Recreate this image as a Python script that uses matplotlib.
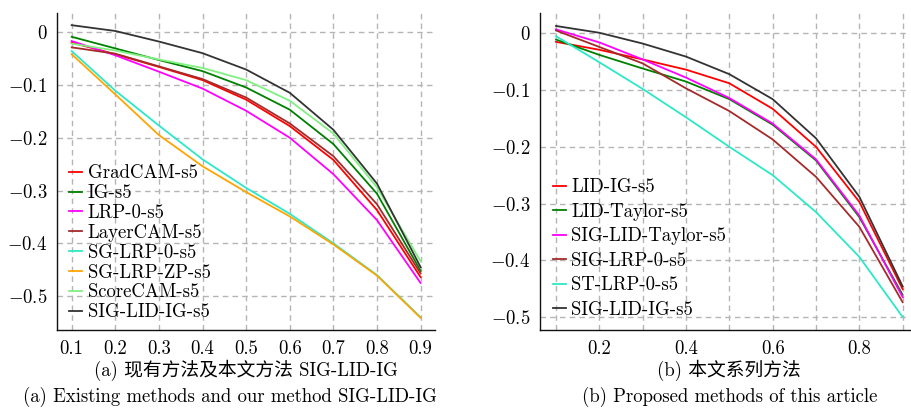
import matplotlib
matplotlib.use("Agg")
import matplotlib.pyplot as plt
import numpy as np

plt.rcParams['font.family'] = ['cmr10', 'Noto Sans CJK SC']
plt.rcParams['mathtext.fontset'] = 'cm'
plt.rcParams['axes.formatter.use_mathtext'] = True
plt.rcParams['axes.unicode_minus'] = False

FS = 13.5

# ---- data, left panel: existing methods vs SIG-LID-IG ----
x = [0.1, 0.2, 0.3, 0.4, 0.5, 0.6, 0.7, 0.8, 0.9]

gradcam = [-0.020, -0.042, -0.066, -0.091, -0.128, -0.178, -0.242, -0.337, -0.464]
ig = [-0.009, -0.031, -0.053, -0.074, -0.105, -0.147, -0.212, -0.306, -0.452]
lrp0 = [-0.017, -0.044, -0.075, -0.107, -0.149, -0.200, -0.269, -0.356, -0.475]
layercam = [-0.029, -0.041, -0.065, -0.089, -0.124, -0.173, -0.235, -0.326, -0.457]
sg_lrp0 = [-0.036, -0.111, -0.177, -0.241, -0.295, -0.344, -0.400, -0.460, -0.540]
sg_lrpzp = [-0.042, -0.118, -0.195, -0.254, -0.303, -0.349, -0.402, -0.461, -0.541]
scorecam = [-0.022, -0.035, -0.052, -0.068, -0.091, -0.130, -0.192, -0.294, -0.434]
sig_lid_ig = [0.013, 0.002, -0.018, -0.040, -0.071, -0.115, -0.185, -0.287, -0.445]

left_labels = ['GradCAM-s5', 'IG-s5', 'LRP-0-s5', 'LayerCAM-s5', 'SG-LRP-0-s5',
               'SG-LRP-ZP-s5', 'ScoreCAM-s5', 'SIG-LID-IG-s5']
left_series = [gradcam, ig, lrp0, layercam, sg_lrp0, sg_lrpzp, scorecam, sig_lid_ig]
left_colors = ['#ff0000', '#008000', '#ff00ff', '#a52a2a', '#2be8c8', '#ffa500',
               '#80f080', '#333333']

# ---- data, right panel: proposed methods ----
lid_ig = [-0.015, -0.029, -0.046, -0.064, -0.088, -0.133, -0.200, -0.297, -0.451]
lid_taylor = [-0.011, -0.038, -0.062, -0.085, -0.116, -0.161, -0.224, -0.324, -0.461]
sig_lid_taylor = [0.007, -0.016, -0.046, -0.078, -0.114, -0.159, -0.222, -0.321, -0.465]
sig_lrp0 = [0.005, -0.024, -0.053, -0.097, -0.137, -0.187, -0.253, -0.341, -0.474]
st_lrp0 = [-0.005, -0.051, -0.098, -0.148, -0.200, -0.250, -0.315, -0.394, -0.500]
sig_lid_ig_b = [0.013, 0.001, -0.018, -0.041, -0.072, -0.116, -0.185, -0.288, -0.446]

right_labels = ['LID-IG-s5', 'LID-Taylor-s5', 'SIG-LID-Taylor-s5', 'SIG-LRP-0-s5',
                'ST-LRP-0-s5', 'SIG-LID-IG-s5']
right_series = [lid_ig, lid_taylor, sig_lid_taylor, sig_lrp0, st_lrp0, sig_lid_ig_b]
right_colors = ['#ff0000', '#008000', '#ff00ff', '#a52a2a', '#2be8c8', '#333333']

yticks = [0, -0.1, -0.2, -0.3, -0.4, -0.5]


def style(ax):
    for s in ['top', 'right']:
        ax.spines[s].set_visible(False)
    for s in ['left', 'bottom']:
        ax.spines[s].set_color('#111111')
        ax.spines[s].set_linewidth(1.0)
    ax.grid(True, color='#b5b5b5', linestyle=(0, (4, 3)), linewidth=1.0)
    ax.set_axisbelow(True)
    ax.tick_params(length=0, labelsize=FS, pad=7)
    ax.set_yticks(yticks)
    ax.set_yticklabels(['$0$' if v == 0 else '$%g$' % v for v in yticks], fontsize=FS)


fig = plt.figure(figsize=(9.11, 4.08), dpi=100)

ax1 = fig.add_axes([57 / 911, 1 - 330 / 408, (435 - 57) / 911, (330 - 12.7) / 408])
for ys, lab, c in zip(left_series, left_labels, left_colors):
    ax1.plot(x, ys, color=c, lw=1.3, label=lab)
style(ax1)
ax1.set_xticks(x)
ax1.set_xticklabels(['%g' % v for v in x])
ax1.set_xlim(0.0663, 0.933)
ax1.set_ylim(-0.564, 0.0366)
ax1.legend(loc='lower left', bbox_to_anchor=(0.032, 0.028), frameon=False, fontsize=FS,
           handlelength=0.7, handletextpad=0.3, labelspacing=0.1, borderpad=0,
           borderaxespad=0)

ax2 = fig.add_axes([540 / 911, 1 - 330 / 408, (910 - 540) / 911, (330 - 12.7) / 408])
for ys, lab, c in zip(right_series, right_labels, right_colors):
    ax2.plot(x, ys, color=c, lw=1.3, label=lab)
style(ax2)
ax2.set_xticks(x)
ax2.set_xticklabels(['%g' % v if round(v * 10) % 2 == 0 else '' for v in x])
ax2.set_xlim(0.063, 0.917)
ax2.set_ylim(-0.523, 0.0364)
ax2.legend(loc='lower left', bbox_to_anchor=(0.034, 0.035), frameon=False, fontsize=FS,
           handlelength=0.7, handletextpad=0.3, labelspacing=0.35, borderpad=0,
           borderaxespad=0)

fig.text(246 / 911, 1 - 370 / 408, '(a) 现有方法及本文方法 SIG-LID-IG',
         ha='center', va='center', fontsize=FS)
fig.text(230 / 911, 1 - 397 / 408, '(a) Existing methods and our method SIG-LID-IG',
         ha='center', va='center', fontsize=FS)
fig.text(729 / 911, 1 - 370 / 408, '(b) 本文系列方法',
         ha='center', va='center', fontsize=FS)
fig.text(730 / 911, 1 - 397 / 408, '(b) Proposed methods of this article',
         ha='center', va='center', fontsize=FS)

fig.savefig('out.png', dpi=100)
